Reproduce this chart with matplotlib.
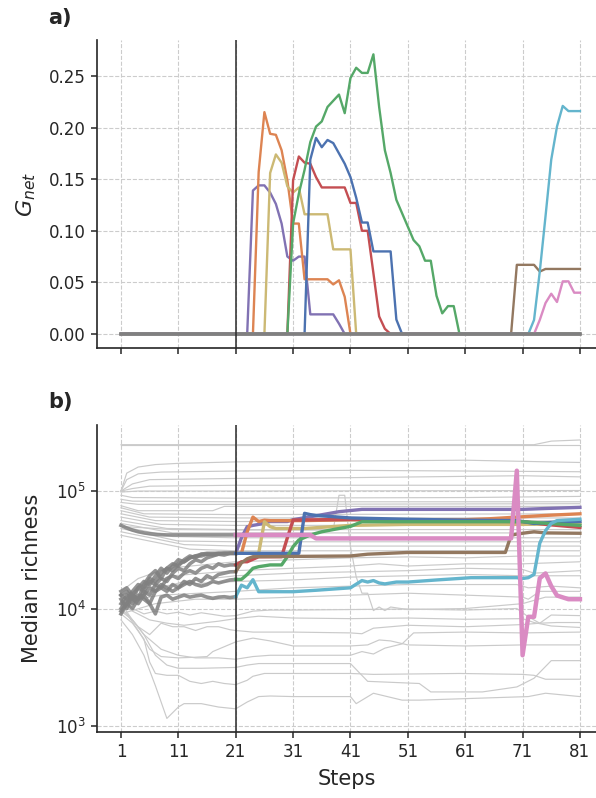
import numpy as np
import matplotlib
matplotlib.use("Agg")
import matplotlib.pyplot as plt
from matplotlib.ticker import NullLocator

plt.rcParams['font.family'] = ['DejaVu Sans']
for k in ['text.color', 'axes.labelcolor', 'xtick.color', 'ytick.color', 'axes.edgecolor']:
    plt.rcParams[k] = '#262626'

steps = np.arange(1, 82)
xticks = [1, 11, 21, 31, 41, 51, 61, 71, 81]
split_step = 21
gticks = [0.00, 0.05, 0.10, 0.15, 0.20, 0.25]

colors = {
    'blue': '#4C72B0', 'orange': '#DD8452', 'green': '#55A868', 'red': '#C44E52',
    'purple': '#8172B3', 'brown': '#937860', 'pink': '#DA8BC3', 'olive': '#CCB974',
    'cyan': '#64B5CD',
}

# a) G_net per step: (first step shown, values from that step on), zero elsewhere
gnet_purple = (23, [0, .139, .144, .144, .137, .126, .107, .075, .071, .075, .075, .019,
                    .019, .019, .019, .019, .010, 0])
gnet_orange = (24, [0, .157, .215, .194, .193, .178, .149, .107, .107, .053, .053, .053,
                    .053, .053, .048, .052, .036, 0])
gnet_olive = (26, [0, .156, .174, .166, .143, .137, .142, .116, .116, .116, .116, .116,
                   .082, .082, .082, .082, 0])
gnet_red = (30, [0, .149, .172, .166, .165, .152, .142, .142, .142, .142, .142, .127, .127,
                 .100, .100, .059, .017, .005, 0])
gnet_blue = (33, [0, .169, .190, .181, .188, .185, .175, .165, .152, .132, .108, .108, .080,
                  .080, .080, .080, .014, 0])
gnet_green = (30, [0, .107, .136, .159, .186, .201, .206, .220, .226, .232, .214, .248, .258,
                   .253, .253, .271, .220, .178, .156, .130, .117, .104, .091, .085, .071,
                   .071, .037, .020, .027, .027, 0])
gnet_brown = (69, [0, .067, .067, .067, .067, .0605, .063, .063, .063, .063, .063, .063, .063])
gnet_cyan = (72, [0, .0136, .0605, .114, .169, .201, .221, .216, .216, .216])
gnet_pink = (73, [0, .0136, .030, .039, .031, .051, .051, .040, .040])

# b) median richness, steps 1-21 of the runs that later get coloured (thousands)
pre_purple = [13, 12, 14, 16, 15, 18, 17, 20, 22, 21, 24, 25, 27, 28, 28, 29, 29, 29.5, 29.5, 29.5, 29.5]
pre_orange = [11, 13, 12, 15, 17, 16, 19, 22, 20, 23, 26, 25, 27, 28, 29, 29, 28.5, 29, 29.5, 29.5, 29.5]
pre_olive = [14, 15, 13, 12, 16, 19, 21, 18, 22, 24, 23, 26, 28, 27, 29, 29.5, 29.5, 29.5, 29.5, 29.5, 29.5]
pre_blue = [9.5, 11, 13, 12, 14, 13, 16, 18, 17, 20, 22, 21, 24, 26, 25, 27, 28, 29, 28.5, 29.5, 29.5]
pre_red = [12, 10, 13, 15, 14, 17, 16, 15, 18, 19, 18, 20, 21, 20, 22, 23, 22, 24, 23, 23.5, 23.5]
pre_brown = [10, 12, 11, 13, 12, 11, 14, 15, 14, 16, 15, 17, 16, 18, 17, 19, 18, 19.5, 20, 20.5, 20.6]
pre_green = [13, 14, 12, 11, 13, 15, 14, 16, 15, 14, 15, 16, 17, 16, 15.5, 16, 17, 16.5, 17, 17.5, 17.7]
pre_cyan = [9, 11, 10, 12, 13, 11, 9, 12.5, 13, 12, 12.5, 13, 12.5, 12.8, 13, 12.5, 12.2, 12.5, 12.6, 12.4, 12.6]
pre_pink = [51, 48.5, 46.5, 45, 44, 43.3, 42.8, 42.5, 42.3, 42.3, 42.3, 42.3, 42.3, 42.3, 42.3,
            42.3, 42.3, 42.3, 42.3, 42.3, 42.3]

# b) coloured runs from step 21 on: (steps, values in thousands)
rich_purple = ([21, 22, 23, 24, 25, 27, 30, 31, 35, 39, 43, 71, 75, 81],
               [29.5, 40, 49.7, 51, 52, 55, 55, 57, 61.6, 66.7, 69.8, 69.8, 71, 72.6])
rich_orange = ([21, 22, 23, 24, 25, 26, 27, 33, 41, 51, 61, 65, 70, 75, 81],
               [29.5, 29.5, 45, 60, 55, 56.5, 56, 56, 57, 57, 57, 58, 60, 62, 64])
rich_olive = ([21, 25, 26, 27, 28, 33, 41, 51, 71, 81],
              [29.5, 29.5, 54.8, 49.7, 48, 48, 51, 52, 52, 53])
rich_blue = ([21, 32, 33, 34, 35, 41, 51, 61, 70, 73, 76, 81],
             [29.5, 29.5, 64.6, 63, 62, 59, 57.5, 56.5, 56, 53, 54, 55])
rich_red = ([21, 22, 23, 25, 29, 30, 31, 41, 51, 61, 71, 75, 81],
            [23.5, 25, 25, 27.6, 27.6, 40, 56.6, 57.4, 56.5, 55.5, 55, 52, 49])
rich_green = ([21, 22, 23, 24, 25, 27, 29, 30, 31, 32, 34, 36, 38, 41, 43, 71, 81],
              [17.7, 17.7, 19.5, 22, 22.7, 23.5, 23.5, 27.6, 33.6, 38.3, 42.3, 45, 47, 50, 54.8, 54.8, 51])
rich_brown = ([21, 22, 23, 24, 41, 44, 51, 68, 69, 70, 71, 73, 75, 81],
              [20.6, 24.5, 26.5, 27.6, 28, 29, 30, 30, 42, 43, 43.7, 45, 44, 43.7])
rich_cyan = ([21, 22, 23, 24, 25, 31, 35, 41, 43, 44, 45, 46, 47, 49, 51, 56, 62, 70, 71, 72,
              73, 74, 75, 76, 77, 81],
             [12.6, 15.8, 15, 17.6, 13.9, 13.9, 14.3, 15, 17.3, 16.8, 17.3, 16.5, 16.2, 16.8,
              16.8, 17.5, 18.3, 18.3, 18, 18.3, 19.5, 36, 46, 53, 56, 57.5])
rich_pink = ([21, 34, 35, 69, 70, 71, 72, 73, 74, 75, 76, 77, 79, 81],
             [42.3, 42.3, 39.5, 39.5, 149, 4.0, 8.5, 8.5, 18.1, 19.9, 15.5, 12.9, 12, 12])

# b) the other runs (G_net stays 0): (steps, values in thousands)
other_runs = [
    ([1, 81], [245, 245]),
    ([1, 73, 76, 81], [248, 248, 266, 272]),
    ([1, 2, 4, 7, 11, 21, 41, 61, 81], [100, 142, 160, 168, 172, 177, 180, 183, 175]),
    ([1, 2, 4, 8, 21, 41, 61, 81], [100, 125, 140, 145, 148, 150, 148, 146]),
    ([1, 3, 6, 21, 41, 71, 81], [100, 115, 125, 128, 130, 135, 132]),
    ([1, 3, 6, 21, 81], [100, 105, 110, 112, 112]),
    ([1, 4, 21, 81], [98, 100, 100, 101]),
    ([1, 3, 21, 61, 81], [92, 88, 87, 88, 90]),
    ([1, 3, 21, 81], [85, 82, 81, 81]),
    ([1, 4, 21, 81], [80, 77, 77, 78]),
    ([1, 4, 17, 19, 81], [75, 68, 68, 74, 74]),
    ([1, 5, 21, 81], [72, 64, 63, 64]),
    ([1, 6, 21, 81], [68, 60, 59, 59]),
    ([1, 7, 21, 81], [64, 56, 55, 56]),
    ([1, 8, 21, 81], [60, 52, 51, 51]),
    ([1, 9, 21, 81], [56, 48, 47, 47]),
    ([1, 10, 21, 81], [53, 44, 44, 44]),
    ([1, 10, 21, 81], [50, 41, 40, 40]),
    ([1, 11, 21, 81], [48, 37.5, 37, 37]),
    ([1, 12, 21, 81], [45, 35, 34, 34]),
    ([1, 13, 21, 81], [42, 32, 31, 31]),
    ([1, 10, 21, 38, 39, 40, 41, 42, 43, 44, 45, 46, 47, 48, 51, 61, 71, 75, 81],
     [50, 47, 46.6, 46.6, 92, 92, 33.6, 18.6, 13.5, 13.5, 9.6, 10.3, 9.6, 10.3, 9.8, 10, 11, 12.5, 12.5]),
    ([1, 4, 9, 21, 31, 41, 51, 61, 71, 81], [14, 18, 22, 25, 26, 27, 27.5, 27, 28, 28]),
    ([1, 5, 10, 21, 31, 41, 46, 51, 61, 71, 81], [12, 16, 19, 21, 22, 23, 24, 23, 24, 24, 25]),
    ([1, 6, 12, 21, 31, 41, 51, 61, 71, 73, 81], [11, 14, 17, 19, 20, 20.5, 21, 22, 21.5, 20, 21]),
    ([1, 5, 11, 21, 31, 41, 51, 61, 71, 81], [13, 15, 16, 17, 17.5, 18.5, 19, 19.5, 19, 19]),
    ([1, 4, 8, 21, 26, 31, 41, 51, 61, 70, 72, 76, 81],
     [10, 12, 13, 14, 14.5, 15, 15.5, 16, 16, 16, 15, 15.5, 15]),
    ([1, 7, 14, 21, 31, 41, 51, 61, 71, 72, 74, 81], [9, 11, 12, 12, 12.5, 13, 13.5, 13, 12.5, 12, 14, 14]),
    ([1, 3, 5, 7, 9, 11, 12, 15, 18, 21, 23, 25, 27, 31, 41, 42, 45, 50, 53, 72, 75, 81],
     [8, 6, 4, 2.2, 1.16, 1.45, 1.55, 1.55, 1.45, 1.4, 1.6, 1.78, 1.8, 1.78, 1.78, 1.55, 1.9,
      1.66, 1.66, 1.78, 1.9, 1.78]),
    ([1, 3, 5, 6, 7, 9, 11, 13, 15, 17, 19, 21, 23, 24, 26, 31, 41, 45, 60, 71, 73, 75, 81],
     [9, 7.5, 5.5, 3.5, 2.8, 2.7, 2.7, 2.4, 2.3, 2.4, 2.3, 2.25, 2.45, 2.65, 2.8, 2.8, 2.8, 2.75,
      2.8, 2.75, 2.7, 2.5, 2.5]),
    ([1, 3, 5, 7, 9, 11, 15, 21, 23, 25, 31, 41, 44, 53, 55, 64, 70, 73, 76, 81],
     [9.5, 8, 6, 4, 3.3, 3.1, 3.1, 3.15, 3.3, 3.4, 3.4, 3.4, 2.4, 2.3, 1.95, 1.95, 2.15, 2.55, 3.6, 3.6]),
    ([1, 2, 4, 6, 8, 11, 14, 16, 17, 21, 24, 27, 31, 41, 44, 46, 48, 51, 61, 71, 81],
     [10, 9, 6.5, 4.5, 3.9, 3.8, 3.85, 3.9, 4.3, 5.2, 5.6, 5.3, 4.8, 4.8, 4.9, 5.4, 5.3, 4.9, 4.8, 4.9, 4.9]),
    ([1, 3, 5, 8, 11, 14, 18, 21, 24, 27, 31, 41, 43, 45, 47, 50, 52, 61, 71, 81],
     [11, 8, 6, 4.5, 4, 3.8, 3.8, 3.7, 3.9, 4, 4, 4, 4.3, 4.1, 4.6, 5, 6.2, 6.3, 6.2, 6.3]),
    ([1, 2, 4, 6, 8, 10, 12, 14, 16, 18, 20, 21, 24, 31, 41, 43, 45, 51, 61, 71, 74, 77, 81],
     [10, 9, 7, 6, 7.5, 7, 7, 6.5, 7, 7, 6.6, 6.5, 6.3, 6.3, 6.2, 6.1, 6.8, 7.2, 7.0, 7.3, 7.5, 7.6, 7.6]),
    ([1, 3, 5, 7, 9, 11, 13, 15, 17, 19, 21, 24, 27, 31, 41, 51, 61, 70, 72, 74, 76, 81],
     [12, 10, 9, 9.5, 9, 9.3, 8.8, 9.2, 8.9, 8.6, 8.7, 9.5, 9.7, 9.7, 9.8, 9.9, 9.7, 10, 8.5, 7.5, 8.8, 8.7]),
    ([1, 3, 6, 9, 12, 15, 18, 21, 25, 31, 41, 51, 61, 71, 73, 76, 81],
     [11, 9.5, 8, 7.5, 7.2, 7.5, 7.8, 8.2, 8.6, 8.3, 8.2, 8.3, 8.1, 8.2, 7.6, 7.1, 6.9]),
]

names = ['purple', 'orange', 'olive', 'red', 'blue', 'green', 'brown', 'cyan', 'pink']
gnet = dict(zip(names, [gnet_purple, gnet_orange, gnet_olive, gnet_red, gnet_blue,
                        gnet_green, gnet_brown, gnet_cyan, gnet_pink]))
pre = dict(zip(names, [pre_purple, pre_orange, pre_olive, pre_red, pre_blue, pre_green,
                       pre_brown, pre_cyan, pre_pink]))
rich = dict(zip(names, [rich_purple, rich_orange, rich_olive, rich_red, rich_blue,
                        rich_green, rich_brown, rich_cyan, rich_pink]))

fig = plt.figure(figsize=(5.96, 7.98), dpi=100)
ax1 = fig.add_axes([97 / 596, 1 - 348 / 798, 499 / 596, 308 / 798])
ax2 = fig.add_axes([97 / 596, 1 - 732 / 798, 499 / 596, 307 / 798])

# ---- a) ----
for n in names:
    start, vals = gnet[n]
    g = np.zeros(len(steps))
    g[start - 1:start - 1 + len(vals)] = vals
    ax1.plot(steps, g, color=colors[n], lw=1.7, zorder=3)
ax1.plot(steps, np.zeros(len(steps)), color='#808080', lw=2.6, zorder=4)
ax1.set_ylim(-0.0136, 0.2849)
ax1.set_yticks(gticks)
ax1.set_yticklabels(['%.2f' % t for t in gticks])
ax1.set_ylabel('$G_{net}$', fontsize=16)
ax1.yaxis.set_label_coords(-0.118, 0.5)

# ---- b) ----
for s, v in other_runs:
    ax2.plot(s, np.array(v) * 1000, color='#cacaca', lw=0.85, zorder=2)
pre_steps = steps[:split_step]
for n in names:
    ax2.plot(pre_steps, np.array(pre[n]) * 1000, color='#808080', lw=2.6, alpha=0.85, zorder=3)
for n in names:
    s, v = rich[n]
    ax2.plot(s, np.array(v) * 1000, color=colors[n], lw=3.2 if n == 'pink' else 2.4,
             zorder=5 if n == 'pink' else 4)
ax2.set_yscale('log')
ax2.set_ylim(889, 364800)
ax2.set_yticks([1e3, 1e4, 1e5])
ax2.yaxis.set_minor_locator(NullLocator())
ax2.set_ylabel('Median richness', fontsize=15)
ax2.yaxis.set_label_coords(-0.11, 0.5)
ax2.set_xlabel('Steps', fontsize=15)
ax2.xaxis.set_label_coords(0.5, -0.12)

for ax in (ax1, ax2):
    ax.set_xlim(-3.18, 83.8)
    ax.set_xticks(xticks)
    ax.axvline(split_step, color='#2a2a2a', lw=1.1, zorder=6)
    ax.grid(True, ls='--', color='#cccccc', lw=0.8)
    ax.set_axisbelow(True)
    for side in ('top', 'right'):
        ax.spines[side].set_visible(False)
    for side in ('left', 'bottom'):
        ax.spines[side].set_linewidth(1.2)
    ax.tick_params(axis='both', which='major', labelsize=12, length=4.5, width=1.1)
ax1.set_xticklabels([])
ax2.set_xticklabels([str(t) for t in xticks])

fig.text(48 / 596, 1 - 18 / 798, 'a)', fontsize=15, fontweight='bold', va='center')
fig.text(48 / 596, 1 - 402 / 798, 'b)', fontsize=15, fontweight='bold', va='center')

fig.savefig('out.png', dpi=100)
